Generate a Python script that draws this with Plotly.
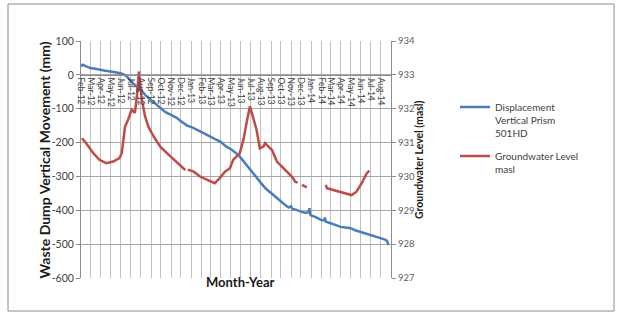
import plotly.graph_objects as go

# ---------------- data ----------------
disp_dates = ["2012-02-01", "2012-02-06", "2012-02-15", "2012-03-01", "2012-03-15", "2012-04-01",
              "2012-04-15", "2012-05-01", "2012-05-15", "2012-06-01", "2012-06-18", "2012-07-01",
              "2012-07-18", "2012-08-01", "2012-08-18", "2012-09-01", "2012-09-28", "2012-10-15",
              "2012-11-01", "2012-11-18", "2012-12-01", "2012-12-20", "2013-01-06", "2013-02-01",
              "2013-02-27", "2013-03-15", "2013-04-01", "2013-04-18", "2013-05-06", "2013-05-28",
              "2013-06-01", "2013-06-15", "2013-07-01", "2013-07-15", "2013-08-01", "2013-08-15",
              "2013-09-01", "2013-09-15", "2013-10-01", "2013-10-15", "2013-10-25", "2013-11-01",
              "2013-11-05", "2013-11-15", "2013-12-01", "2013-12-15", "2013-12-25", "2013-12-27",
              "2013-12-29", "2014-01-01", "2014-01-15", "2014-02-01", "2014-02-10", "2014-02-12",
              "2014-02-14", "2014-03-01", "2014-03-15", "2014-04-01", "2014-04-15", "2014-05-01",
              "2014-05-15", "2014-06-01", "2014-06-15", "2014-07-01", "2014-07-15", "2014-08-01",
              "2014-08-12", "2014-08-20", "2014-08-24"]
disp_mm = [25, 30, 26, 20, 18, 14,
           12, 10, 8, 5, -3, -18,
           -34, -45, -63, -75, -97, -110,
           -118, -127, -137, -150, -156, -168,
           -182, -190, -198, -212, -222, -240,
           -245, -262, -281, -300, -319, -335,
           -349, -362, -375, -385, -392, -388,
           -396, -398, -404, -408, -405, -394,
           -412, -415, -420, -429, -430, -421,
           -433, -438, -443, -449, -451, -453,
           -459, -464, -469, -474, -478, -483,
           -486, -490, -503]

gw_dates = ["2012-02-04", "2012-02-15", "2012-03-09", "2012-03-28", "2012-04-18", "2012-05-09",
            "2012-05-28", "2012-06-04", "2012-06-09", "2012-06-14", "2012-06-23", "2012-07-04",
            "2012-07-14", "2012-07-21", "2012-07-26", "2012-07-30", "2012-08-04", "2012-08-14",
            "2012-08-24", "2012-09-09", "2012-09-29", "2012-10-30", "2012-11-29", "2012-12-14",
            "2012-12-18", "2012-12-22", "2013-01-09", "2013-01-29", "2013-02-18", "2013-03-14",
            "2013-03-29", "2013-04-14", "2013-04-29", "2013-05-09", "2013-05-29", "2013-06-09",
            "2013-06-19", "2013-06-29", "2013-07-19", "2013-07-29", "2013-08-09", "2013-08-14",
            "2013-08-19", "2013-09-04", "2013-09-19", "2013-10-04", "2013-10-19", "2013-11-04",
            "2013-11-14", "2013-11-21", "2013-11-28", "2013-12-04", "2013-12-19", "2014-01-20",
            "2014-02-15", "2014-02-18", "2014-03-09", "2014-03-29", "2014-04-19", "2014-05-04",
            "2014-05-19", "2014-06-04", "2014-06-19", "2014-06-27"]
gw_masl = [931.13, 931.00, 930.69, 930.49, 930.39, 930.44,
           930.54, 930.69, 931.08, 931.47, 931.67, 931.97,
           931.88, 932.46, 933.10, 932.77, 932.27, 931.77,
           931.47, 931.18, 930.88, 930.59, 930.34, 930.19,
           None, 930.20, 930.14, 929.99, 929.90, 929.80,
           929.95, 930.14, 930.24, 930.49, 930.69, 931.08,
           931.60, 932.07, 931.38, 930.83, 930.88, 930.98,
           930.93, 930.78, 930.44, 930.29, 930.14, 929.99,
           929.84, 929.82, None, 929.75, 929.68, None,
           929.75, 929.65, 929.60, 929.55, 929.50, 929.45,
           929.55, 929.80, 930.09, 930.17]

month_ticks = ["2012-02-01", "2012-03-01", "2012-04-01", "2012-05-01", "2012-06-01", "2012-07-01",
               "2012-08-01", "2012-09-01", "2012-10-01", "2012-11-01", "2012-12-01", "2013-01-01",
               "2013-02-01", "2013-03-01", "2013-04-01", "2013-05-01", "2013-06-01", "2013-07-01",
               "2013-08-01", "2013-09-01", "2013-10-01", "2013-11-01", "2013-12-01", "2014-01-01",
               "2014-02-01", "2014-03-01", "2014-04-01", "2014-05-01", "2014-06-01", "2014-07-01",
               "2014-08-01"]
month_labels = ["Feb-12", "Mar-12", "Apr-12", "May-12", "Jun-12", "Jul-12", "Aug-12", "Sep-12",
                "Oct-12", "Nov-12", "Dec-12", "Jan-13", "Feb-13", "Mar-13", "Apr-13", "May-13",
                "Jun-13", "Jul-13", "Aug-13", "Sep-13", "Oct-13", "Nov-13", "Dec-13", "Jan-14",
                "Feb-14", "Mar-14", "Apr-14", "May-14", "Jun-14", "Jul-14", "Aug-14"]

left_ticks = [100, 0, -100, -200, -300, -400, -500, -600]
right_ticks = [934, 933, 932, 931, 930, 929, 928, 927]

# ---------------- layout geometry ----------------
W, H = 622, 316
ML, MR, MT, MB = 81, 231, 41, 38
PW, PH = W - ML - MR, H - MT - MB

def px_x(px):
    return (px - ML) / PW

def px_y(py):
    return (H - MB - py) / PH

FONT = "Lato, 'Open Sans', sans-serif"
BLUE = "#4A7EBB"
RED = "#BE4B48"

fig = go.Figure()
fig.add_trace(go.Scatter(
    x=disp_dates, y=disp_mm, mode="lines", name="Displacement<br>Vertical Prism<br>501HD",
    line=dict(color=BLUE, width=2.5), legendgroup="a", yaxis="y"))
fig.add_trace(go.Scatter(
    x=gw_dates, y=gw_masl, mode="lines", name="Groundwater Level<br>masl",
    line=dict(color=RED, width=2.5), legendgroup="b", yaxis="y2", connectgaps=False))

ymin, ymax = -600, 100
xpos = (0 - ymin) / (ymax - ymin)

fig.update_layout(
    width=W, height=H,
    margin=dict(l=ML, r=MR, t=MT, b=MB),
    paper_bgcolor="white", plot_bgcolor="white",
    font=dict(family=FONT, color="#404040"),
    showlegend=True,
    legend=dict(x=px_x(455), y=px_y(94), xanchor="left", yanchor="top",
                font=dict(size=10, color="#404040", family=FONT),
                valign="top", itemwidth=30, tracegroupgap=7,
                bgcolor="rgba(0,0,0,0)"),
    xaxis=dict(
        type="date", range=["2012-02-01", "2014-09-01"],
        tickvals=month_ticks, ticktext=month_labels,
        tickangle=90, tickfont=dict(size=8.5, color="#404040"),
        showgrid=True, gridcolor="#c0c0c0", gridwidth=1,
        anchor="free", position=xpos,
        showline=True, linecolor="#8c8c8c", linewidth=1,
        ticks="", zeroline=False),
    yaxis=dict(
        range=[ymin, ymax], tickvals=left_ticks, ticktext=[str(v) for v in left_ticks],
        tickfont=dict(size=10.5, color="#404040"),
        showgrid=True, gridcolor="#a6a6a6", gridwidth=1,
        showline=True, linecolor="#8c8c8c", ticks="outside", ticklen=4,
        tickcolor="#8c8c8c", zeroline=False),
    yaxis2=dict(
        range=[927, 934], tickvals=right_ticks, ticktext=[str(v) for v in right_ticks],
        overlaying="y", side="right", anchor="x",
        tickfont=dict(size=9.5, color="#606060"),
        showgrid=False, showline=True, linecolor="#8c8c8c",
        ticks="outside", ticklen=4, tickcolor="#8c8c8c", zeroline=False),
    shapes=[dict(type="rect", xref="paper", yref="paper",
                 x0=px_x(8), x1=px_x(614), y0=px_y(311), y1=px_y(4),
                 line=dict(color="#8a8a8a", width=1), fillcolor="rgba(0,0,0,0)", layer="below")],
    annotations=[
        dict(text="<b>Waste Dump Vertical Movement (mm)</b>", xref="paper", yref="paper",
             x=px_x(33), y=px_y(160), textangle=-90, showarrow=False,
             font=dict(size=14, color="#1a1a1a", family=FONT)),
        dict(text="<b>Groundwater Level (masl)</b>", xref="paper", yref="paper",
             x=px_x(427), y=px_y(160), textangle=-90, showarrow=False,
             font=dict(size=10.5, color="#1a1a1a", family=FONT)),
        dict(text="<b>Month-Year</b>", xref="paper", yref="paper",
             x=px_x(240), y=px_y(292), showarrow=False,
             font=dict(size=13, color="#1a1a1a", family=FONT)),
    ],
)

fig.write_html("out.html", config={"displayModeBar": False},
               post_script="document.body.style.margin='0';document.body.style.overflow='hidden';")
